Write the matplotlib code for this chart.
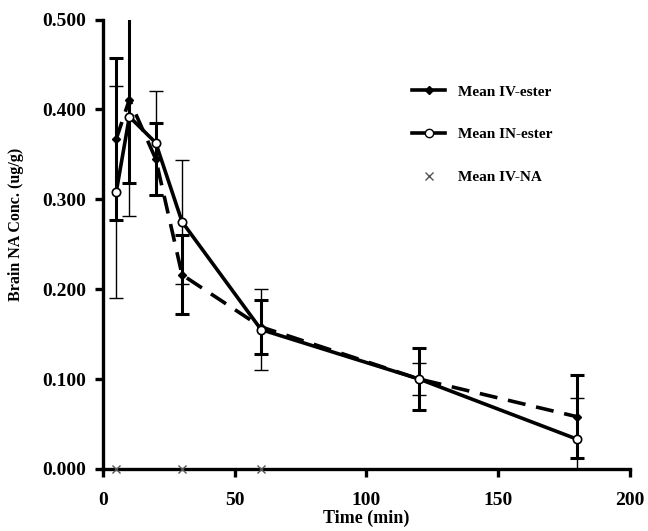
import matplotlib
matplotlib.use('Agg')
import matplotlib.pyplot as plt
from matplotlib.lines import Line2D
from matplotlib.ticker import FormatStrFormatter

plt.rcParams['font.family'] = ['Liberation Serif', 'DejaVu Serif']
plt.rcParams['font.weight'] = 'bold'

# time points (min)
t = [5, 10, 20, 30, 60, 120, 180]

# Mean IV-ester
iv_ester = [0.367, 0.411, 0.345, 0.216, 0.158, 0.100, 0.058]
iv_ester_err = [0.090, 0.093, 0.040, 0.044, 0.030, 0.035, 0.046]

# Mean IN-ester
in_ester = [0.308, 0.392, 0.363, 0.275, 0.155, 0.100, 0.033]
in_ester_err = [0.118, 0.111, 0.058, 0.069, 0.045, 0.018, 0.046]

# Mean IV-NA
t_na = [5, 30, 60]
iv_na = [0.0, 0.0, 0.0]

fig = plt.figure(figsize=(6.48, 5.31), dpi=100)
ax = fig.add_axes([0.159, 0.117, 0.813, 0.846])

# error bars
ax.errorbar(t, iv_ester, yerr=iv_ester_err, fmt='none', ecolor='black',
            elinewidth=2.2, capsize=5, capthick=2.2, zorder=2)
ax.errorbar(t, in_ester, yerr=in_ester_err, fmt='none', ecolor='black',
            elinewidth=1.0, capsize=5, capthick=1.0, zorder=2)

# lines
ax.plot(t, iv_ester, color='black', lw=2.6, dashes=(5, 3),
        marker='D', ms=4.5, mfc='black', mec='black', zorder=3)
ax.plot(t, in_ester, color='black', lw=2.6, marker='o', ms=6,
        mfc='white', mec='black', mew=1.2, zorder=4)
ax.plot(t_na, iv_na, ls='none', marker='x', ms=5.5, mew=1.0,
        color='#555555', zorder=5, clip_on=False)

ax.set_xlim(0, 200)
ax.set_ylim(0, 0.5)
ax.set_xticks([0, 50, 100, 150, 200])
ax.set_yticks([0, 0.1, 0.2, 0.3, 0.4, 0.5])
ax.yaxis.set_major_formatter(FormatStrFormatter('%.3f'))

for s in ['top', 'right']:
    ax.spines[s].set_visible(False)
for s in ['left', 'bottom']:
    ax.spines[s].set_linewidth(2.4)
ax.tick_params(axis='both', direction='out', length=6, width=2.4,
               labelsize=14)
ax.tick_params(axis='x', pad=11)
ax.tick_params(axis='y', pad=6)

ax.set_xlabel('Time (min)', fontsize=13, fontweight='bold', labelpad=0)
ax.set_ylabel('Brain NA Conc. (ug/g)', fontsize=11.5, fontweight='bold')
ax.yaxis.set_label_coords(-0.15, 0.545)

handles = [
    Line2D([], [], color='black', lw=2.6, marker='D', ms=4.5),
    Line2D([], [], color='black', lw=2.6, marker='o', ms=6,
           mfc='white', mec='black'),
    Line2D([], [], ls='none', marker='x', ms=6, color='#555555'),
]
labels = ['Mean IV-ester', 'Mean IN-ester', 'Mean IV-NA']
ax.legend(handles, labels, loc='upper left', bbox_to_anchor=(0.56, 0.885),
          frameon=False, prop={'size': 11, 'weight': 'bold'},
          handlelength=2.2, handletextpad=0.8, labelspacing=1.9)

fig.savefig('out.png', dpi=100)
